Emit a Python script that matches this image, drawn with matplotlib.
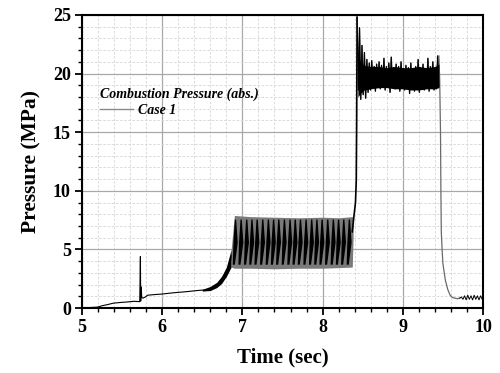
"""
Combustion pressure trace, case 1 (recreated from a scanned chart)
"""

import matplotlib
matplotlib.use("Agg")
import matplotlib.pyplot as plt
import numpy as np
from matplotlib.ticker import MultipleLocator

plt.rcParams['font.family'] = ['Liberation Serif', 'DejaVu Serif']

###############################################################################
# Data: time (sec), pressure (MPa)
#

# start-up ramp, ignition spike at ~5.73 s
start_t = [5.00, 5.10, 5.19, 5.25, 5.32, 5.39, 5.48, 5.56, 5.65, 5.72, 5.728,
           5.732, 5.738, 5.745, 5.76, 5.79, 5.82, 5.90, 6.00, 6.13, 6.30, 6.47,
           6.56, 6.62, 6.68, 6.72, 6.76, 6.81, 6.85, 6.88]
start_p = [0.05, 0.05, 0.08, 0.20, 0.30, 0.42, 0.48, 0.52, 0.58, 0.55, 4.40,
           0.60, 1.80, 0.90, 0.85, 0.95, 1.10, 1.15, 1.20, 1.30, 1.40, 1.52,
           1.55, 1.70, 1.95, 2.30, 2.70, 3.20, 3.90, 5.00]

# thicker (noisy) part just before the first stage
ramp_t = [6.50, 6.60, 6.68, 6.74, 6.80, 6.86]
ramp_lo = [1.45, 1.50, 1.75, 2.10, 2.70, 3.50]
ramp_hi = [1.60, 1.85, 2.20, 2.70, 3.50, 5.00]

# first stage: low-frequency oscillation, envelope
osc_t = [6.86, 6.90, 7.10, 7.40, 7.70, 8.00, 8.20, 8.37, 8.38]
osc_lo = [3.50, 3.40, 3.40, 3.35, 3.40, 3.40, 3.45, 3.50, 6.00]
osc_hi = [5.00, 7.90, 7.80, 7.75, 7.70, 7.75, 7.70, 7.80, 7.80]

# start time of every dark lobe inside the first stage
cycle_t = [6.880, 6.950, 7.020, 7.085, 7.150, 7.220, 7.290, 7.355, 7.420,
           7.490, 7.560, 7.625, 7.690, 7.760, 7.830, 7.895, 7.960, 8.030,
           8.100, 8.165, 8.230, 8.300]

# transition to main stage
rise_t = [8.37, 8.39, 8.41, 8.42, 8.425, 8.43]
rise_p = [6.50, 7.80, 9.00, 10.90, 16.00, 24.80]

# main stage: dense core of the noise band
core_t = [8.44, 8.47, 8.52, 8.60, 8.70, 8.80, 8.90, 9.00, 9.10, 9.20, 9.30, 9.40, 9.45]
core_lo = [18.0, 18.3, 18.6, 18.7, 18.8, 18.8, 18.7, 18.7, 18.6, 18.6, 18.7, 18.7, 18.8]
core_hi = [22.0, 21.0, 20.7, 20.6, 20.6, 20.5, 20.6, 20.5, 20.5, 20.6, 20.5, 20.6, 20.8]

# main stage samples (high-frequency noise around ~19.5 MPa)
main_p = [24.8, 18.6, 23.9, 17.8, 22.4, 18.2, 21.8, 17.9, 21.2, 18.4, 20.9,
          18.6, 21.1, 18.9, 20.6, 18.5, 20.8, 18.8, 21.0, 18.7, 20.7, 19.0,
          21.3, 18.6, 20.6, 18.9, 20.9, 18.4, 21.4, 18.8, 20.5, 18.7, 20.8,
          19.0, 20.6, 18.5, 21.0, 18.8, 20.4, 18.6, 20.7, 18.9, 20.5, 18.3,
          20.9, 18.7, 20.4, 18.5, 20.6, 18.8, 21.2, 18.4, 20.5, 18.7, 20.8,
          18.6, 20.3, 18.8, 21.3, 18.5, 20.6, 18.9, 21.0, 18.6, 20.5, 18.7,
          21.5, 18.9]
main_t = np.linspace(8.43, 9.45, len(main_p))

# shut-down and tail
drop_t = [9.45, 9.46, 9.47, 9.475, 9.48, 9.49, 9.50, 9.53, 9.56, 9.59, 9.62,
          9.65, 9.68, 9.71]
drop_p = [21.5, 19.5, 15.0, 10.0, 6.5, 5.0, 3.8, 2.4, 1.6, 1.1, 0.9, 0.85,
          0.80, 0.85]
tail_t = [9.71, 9.73, 9.75, 9.77, 9.79, 9.81, 9.83, 9.85, 9.87, 9.89, 9.91,
          9.93, 9.95, 9.97, 9.99, 10.0]
tail_p = [0.85, 0.95, 0.75, 1.05, 0.70, 1.10, 0.75, 1.05, 0.70, 1.10, 0.75,
          1.05, 0.70, 1.05, 0.75, 0.90]

###############################################################################
# Figure
#

figure = plt.figure(figsize=(5.0, 3.73), dpi=100)
axe = figure.add_axes([0.164, 0.174, 0.802, 0.786])

axe.plot(start_t, start_p, color='black', lw=0.8, zorder=3)
axe.fill_between(ramp_t, ramp_lo, ramp_hi, color='black', lw=0, zorder=3)

axe.fill_between(osc_t, osc_lo, osc_hi, color='#7a7a7a', lw=0, zorder=3)
for t in cycle_t:
    # slanted lobe, leaning right
    axe.fill([t, t + 0.008, t + 0.026, t + 0.042, t + 0.062, t + 0.026],
             [3.70, 5.60, 7.55, 7.55, 5.60, 3.70], color='black', lw=0, zorder=4)

axe.plot(rise_t, rise_p, color='black', lw=1.2, zorder=3)
axe.fill_between(core_t, core_lo, core_hi, color='black', lw=0, zorder=4)
axe.plot(main_t, main_p, color='#3a3a3a', lw=1.0, zorder=3)
axe.plot(main_t, main_p, color='black', lw=0.7, zorder=4)
axe.plot(drop_t, drop_p, color='#6a6a6a', lw=0.9, zorder=3)
axe.plot(tail_t, tail_p, color='black', lw=0.7, zorder=3)

# axes and grid
axe.set_xlim(5, 10)
axe.set_ylim(0, 25)
axe.xaxis.set_major_locator(MultipleLocator(1))
axe.xaxis.set_minor_locator(MultipleLocator(0.2))
axe.yaxis.set_major_locator(MultipleLocator(5))
axe.yaxis.set_minor_locator(MultipleLocator(1))
axe.grid(which='major', color='#a8a8a8', lw=0.9, ls='-', zorder=0)
axe.grid(which='minor', color='#d4d4d4', lw=0.6, ls=(0, (3, 2)), zorder=0)
axe.set_axisbelow(True)

axe.tick_params(which='major', direction='out', length=5, width=1.3,
                labelsize=13, pad=3)
axe.tick_params(which='minor', direction='out', length=3, width=1.0)
for label in axe.get_xticklabels() + axe.get_yticklabels():
    label.set_fontweight('bold')
for spine in axe.spines.values():
    spine.set_linewidth(1.5)

axe.set_xlabel('Time (sec)', fontsize=15, fontweight='bold', labelpad=8)
axe.set_ylabel('Pressure (MPa)', fontsize=15.5, fontweight='bold', labelpad=8)

# legend
legend_handle = plt.Line2D([], [], color='#8a8a8a', lw=1.0)
legend = axe.legend([legend_handle], ['Case 1'],
                    title='Combustion Pressure (abs.)', loc='upper left',
                    bbox_to_anchor=(0.03, 0.77), frameon=False,
                    alignment='left', handlelength=2.4, handletextpad=0.4,
                    borderaxespad=0, prop={'style': 'italic', 'weight': 'bold', 'size': 10})
legend.get_title().set_fontstyle('italic')
legend.get_title().set_fontweight('bold')
legend.get_title().set_fontsize(10)
legend._legend_box.sep = 2

figure.savefig('out.png', dpi=100)
